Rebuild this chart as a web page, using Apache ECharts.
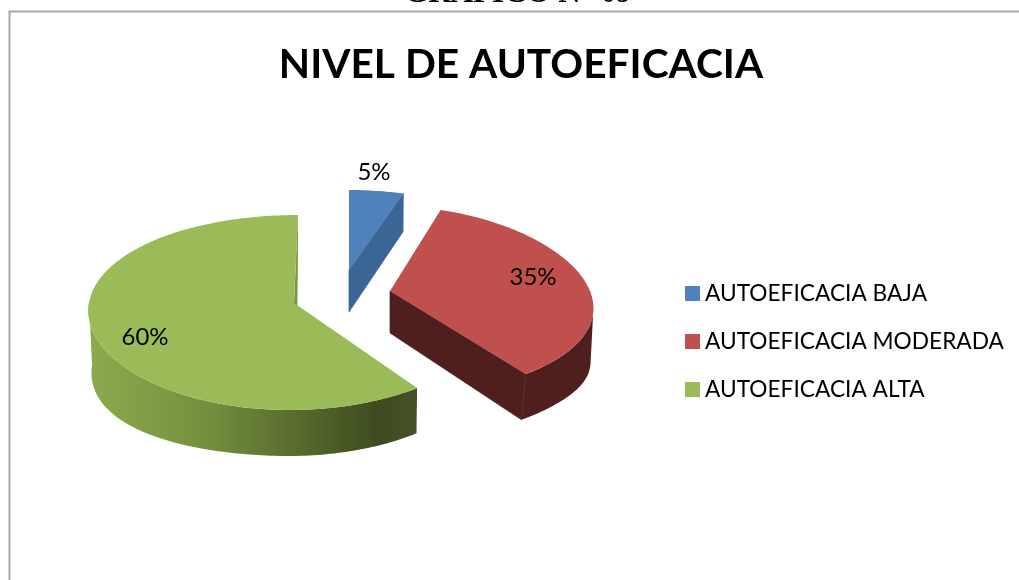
<!DOCTYPE html>
<html><head><meta charset="utf-8">
<style>html,body{margin:0;padding:0;background:#fff;overflow:hidden}#c{width:1019px;height:580px}</style>
<script src="https://cdn.jsdelivr.net/npm/echarts@6/dist/echarts.min.js"></script>
</head><body><div id="c"></div>
<script>
const categories = ['AUTOEFICACIA BAJA', 'AUTOEFICACIA MODERADA', 'AUTOEFICACIA ALTA'];
const values = [5, 35, 60];
const chartTitle = 'NIVEL DE AUTOEFICACIA';
const caption = 'GRÁFICO N° 09';
const topColors = ['#4f81bd', '#c0504d', '#9bbb59'];

// Projection of each exploded slice: apex, radii, skew, depth, wall range (degrees), rim colours
const view = [
  {ax:349, ay:270, b:205, s:.15, lean:0, c:89, d:9, dzx:0, dzs:1, pw:1, bs:.995, bk:0, wall:null, lab:[374,172],
   side:'#3a6595', cut:'#3a6595'},
  {ax:390, ay:291, b:200, s:.19, lean:0, c:94.6, d:9.9, dzx:14, dzs:1, pw:6, bs:.99, bk:.025, wall:[100,144], lab:[533,277],
   side:'#4f1f1e', cut:'#4f1f1e'},
  {ax:294, ay:303, b:205, s:.06, lean:4, c:97.5, d:9.5, dzx:20, dzs:-1, pw:2, bs:.995, bk:0, bsl:.985, wall:[144,270], lab:[145,337],
   side:{type:'linear',x:0,y:0,x2:1,y2:0,colorStops:[
     {offset:0,color:'#8eaa4d'},{offset:.35,color:'#76903f'},{offset:.65,color:'#566a2c'},
     {offset:.88,color:'#3e4b20'},{offset:1,color:'#45522a'}]}, cut:'#7b9740'}
];
const total = values.reduce((a,b)=>a+b,0);
const rad = d => d*Math.PI/180;
function angles(i){
  let a = 0;
  for (let k=0;k<i;k++) a += values[k];
  return [a/total*2*Math.PI, (a+values[i])/total*2*Math.PI];
}
function topPt(w,t){
  const u=Math.sin(t), v=Math.cos(t);
  return [w.ax + w.b*u*(1-w.s*v) + w.lean*v, w.ay - v*(w.c-w.d*v)];
}
function botPt(w,t){
  const p=topPt(w,t), u=Math.sin(t), v=Math.cos(t);
  const dz=42-4*v+(u*w.dzs>0?w.dzx*Math.pow(Math.abs(u),w.pw):0);
  const k=(u<0&&w.bsl)?w.bsl:w.bs-w.bk*Math.max(0,-v);
  return [w.ax + (p[0]-w.ax)*k, p[1]+dz];
}
function arc(fn,w,a,b){
  const out=[], n=Math.max(8,Math.ceil((b-a)/0.02));
  for(let i=0;i<=n;i++) out.push(fn(w,a+(b-a)*i/n));
  return out;
}
function makeRender(i){
  return function(params,api){
    const w=view[i], [a,b]=angles(i);
    const A=[w.ax,w.ay], B=[w.ax+(i===2?3:0),w.ay+42];
    const top=arc(topPt,w,a,b);
    const poly=(pts,fill,z,st)=>({type:'polygon',shape:{points:pts},z2:z,
      style:st?{fill:fill,stroke:fill,lineWidth:.7}:{fill:fill,stroke:null}});
    const kids=[];
    if(w.wall){
      const wa=rad(w.wall[0]), wb=rad(w.wall[1]);
      const wt=arc(topPt,w,wa,wb), wbot=arc(botPt,w,wa,wb);
      kids.push(poly(wt.concat(wbot.slice().reverse()),w.side,1));
    }
    // the face cut along the slice's far edge
    kids.push(poly([A,topPt(w,b),botPt(w,b),B],w.cut,2,i!==2));
    kids.push(poly([A].concat(top),topColors[i],3));
    kids.push({type:'text',z2:4,style:{x:w.lab[0],y:w.lab[1],text:api.value(0)+'%',
        fill:'#000',font:'24px Lato',align:'center',verticalAlign:'middle'}});
    return {type:'group',children:kids};
  };
}
const chart=echarts.init(document.getElementById('c'),null,{renderer:'canvas'});
chart.setOption({
  animation:false,
  backgroundColor:'#fff',
  title:{text:chartTitle,left:516,top:39,textAlign:'center',
    textStyle:{fontFamily:'Lato',fontWeight:'bold',fontSize:40.7,color:'#000'}},
  legend:{orient:'vertical',left:680,top:277,itemWidth:15,itemHeight:15,itemGap:25,
    icon:'rect',data:categories,selectedMode:false,
    textStyle:{fontFamily:'Lato',fontSize:22.7,lineHeight:20,color:'#000'}},
  graphic:[
    {type:'rect',shape:{x:9.5,y:11.5,width:1030,height:600},style:{fill:null,stroke:'#a6a6a6',lineWidth:2},z:-1},
    {type:'text',x:518,y:-22,style:{text:caption,fill:'#000',font:'bold 31px "Liberation Serif"',align:'center'}}
  ],
  series:categories.map((name,i)=>({
    type:'custom',name,coordinateSystem:'none',
    itemStyle:{color:topColors[i]},
    data:[[values[i]]],
    renderItem:makeRender(i)
  }))
});
</script></body></html>
